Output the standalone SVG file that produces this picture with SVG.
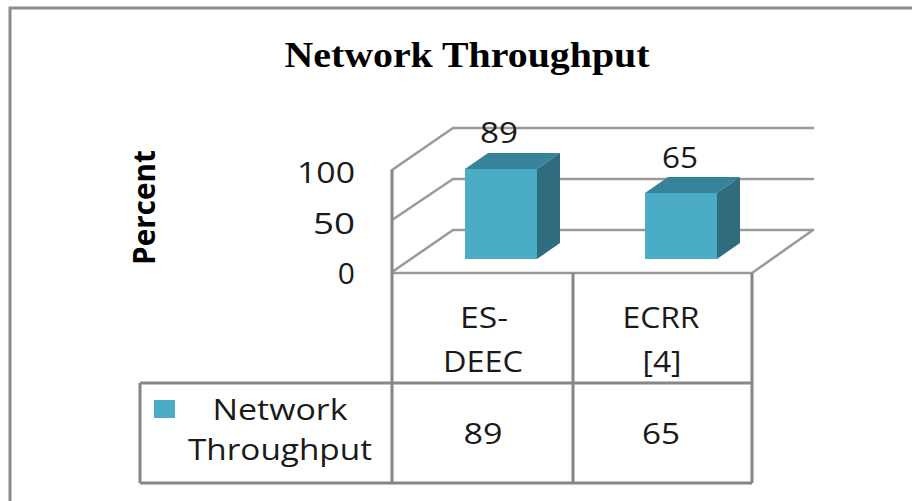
<svg xmlns="http://www.w3.org/2000/svg" width="912" height="501" viewBox="0 0 912 501">
<style>
.grid{stroke:#9a9a9a;stroke-width:2.5;fill:none;stroke-linecap:round}
.tbl{stroke:#868686;stroke-width:3;fill:none}
.lbl{font-family:"Open Sans","Noto Sans",sans-serif;font-size:30px;fill:#1a1a1a}
.mid{text-anchor:middle}
.end{text-anchor:end}
.front{fill:#4bacc6}
.top{fill:#37849a}
.side{fill:#2f6c7d}
</style>
<rect x="0" y="0" width="912" height="501" fill="#ffffff"/>
<g id="frame">
<path d="M10 501 V8 H912" stroke="#8c8c8c" stroke-width="3" fill="none"/>
</g>
<g id="title">
<text x="467" y="67" text-anchor="middle" font-family="'Liberation Serif','Times New Roman',serif" font-weight="bold" font-size="35" textLength="365" lengthAdjust="spacingAndGlyphs" fill="#000">Network Throughput</text>
</g>
<g id="axis-title">
<text transform="translate(155,207.5) rotate(-90)" x="0" y="0" text-anchor="middle" font-family="'Open Sans','Noto Sans',sans-serif" font-weight="bold" font-size="31" textLength="115" lengthAdjust="spacingAndGlyphs" fill="#000">Percent</text>
</g>
<g id="y-axis-labels">
<text class="lbl end" x="355" y="183" textLength="58" lengthAdjust="spacingAndGlyphs">100</text>
<text class="lbl end" x="355" y="234" textLength="42" lengthAdjust="spacingAndGlyphs">50</text>
<text class="lbl end" x="355" y="284">0</text>
</g>
<g id="connectors">
<path class="grid" d="M453 128 H813 M453 179 H813 M453 230 H813"/>
<path class="grid" d="M392 170 L453 128 M392 220 L453 179 M392 272 L453 230"/>
<path class="grid" d="M392 273 H752 L813 230"/>
</g>
<g id="bar-es-deec">
<rect class="front" x="465" y="169" width="72" height="90"/>
<polygon class="top" points="465,169 488,153 560,153 537,169"/>
<polygon class="side" points="537,169 560,153 560,243 537,259"/>
<text class="lbl mid" x="499" y="143" textLength="38" lengthAdjust="spacingAndGlyphs">89</text>
</g>
<g id="bar-ecrr">
<rect class="front" x="645" y="193" width="72" height="66"/>
<polygon class="top" points="645,193 668,177 740,177 717,193"/>
<polygon class="side" points="717,193 740,177 740,243 717,259"/>
<text class="lbl mid" x="680" y="168" textLength="36" lengthAdjust="spacingAndGlyphs">65</text>
</g>
<g id="data-table">
<path class="tbl" d="M392 170 V483 M573 273 V483 M752 273 V483 M140 383 H752 M140 483 H752 M140 383 V483"/>
<text class="lbl mid" x="484" y="328" textLength="48" lengthAdjust="spacingAndGlyphs">ES-</text>
<text class="lbl mid" x="483" y="372" textLength="80" lengthAdjust="spacingAndGlyphs">DEEC</text>
<text class="lbl mid" x="661" y="328" textLength="77" lengthAdjust="spacingAndGlyphs">ECRR</text>
<text class="lbl mid" x="662" y="372" textLength="39" lengthAdjust="spacingAndGlyphs">[4]</text>
<text class="lbl mid" x="483" y="444" textLength="39" lengthAdjust="spacingAndGlyphs">89</text>
<text class="lbl mid" x="661" y="444" textLength="38" lengthAdjust="spacingAndGlyphs">65</text>
</g>
<g id="legend">
<rect x="154" y="400" width="21" height="18" fill="#4bacc6"/>
<text class="lbl mid" x="280" y="420" textLength="135" lengthAdjust="spacingAndGlyphs">Network</text>
<text class="lbl mid" x="280" y="460" textLength="184" lengthAdjust="spacingAndGlyphs">Throughput</text>
</g>
</svg>
